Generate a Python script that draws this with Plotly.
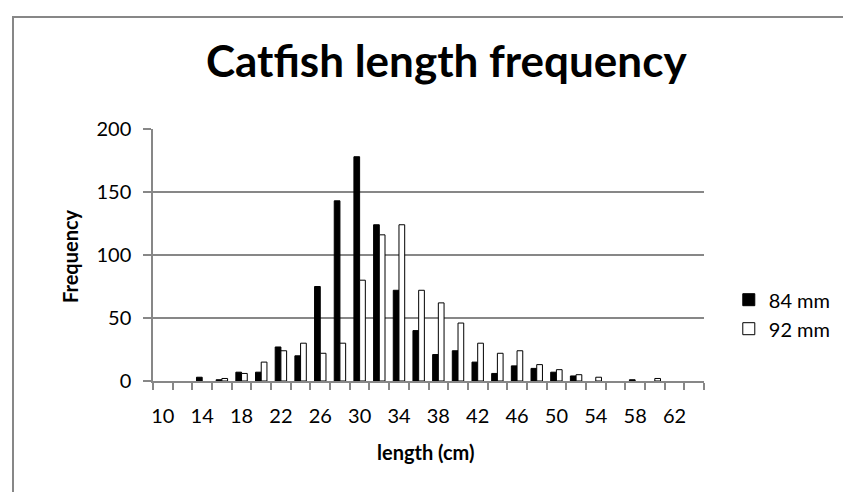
import plotly.graph_objects as go

# length classes (cm) and catch counts for the two mesh sizes
lengths = list(range(10, 66, 2))
freq_84 = [0, 0, 3, 1, 7, 7, 27, 20, 75, 143, 178, 124, 72, 40,
           21, 24, 15, 6, 12, 10, 7, 4, 0, 0, 1, 0, 0, 0]
freq_92 = [0, 0, 0, 2, 6, 15, 24, 30, 22, 30, 80, 116, 124, 72,
           62, 46, 30, 22, 24, 13, 9, 5, 3, 0, 0, 2, 0, 0]
tick_labels = list(range(10, 64, 4))

FONT = "Lato"
GREY = "#878787"


def drop_zeros(values):
    # empty classes get no bar at all (Excel draws nothing there)
    return [v if v else None for v in values]


fig = go.Figure()
fig.add_trace(go.Bar(x=lengths, y=drop_zeros(freq_84), name="84 mm",
                     marker=dict(color="black", line=dict(color="black", width=1))))
fig.add_trace(go.Bar(x=lengths, y=drop_zeros(freq_92), name="92 mm",
                     marker=dict(color="white", line=dict(color="black", width=1))))

fig.update_layout(
    width=851, height=492,
    margin=dict(l=145, r=155, t=121, b=119),
    paper_bgcolor="white", plot_bgcolor="white",
    barmode="group", bargap=0.42, bargroupgap=0,
    font=dict(family=FONT, size=20, color="black"),
    title=dict(text="<b>Catfish length frequency</b>", xref="container", x=0.515,
               y=1 - 54 / 492, xanchor="center", yanchor="middle",
               font=dict(family=FONT, size=44, color="black")),
    legend=dict(x=1.045, y=0.40, xanchor="left", yanchor="top",
                font=dict(size=20), itemwidth=30, tracegroupgap=0,
                bgcolor="rgba(0,0,0,0)"),
    showlegend=True,
)

fig.update_xaxes(
    range=[9, 65], tickvals=tick_labels, ticktext=[str(v) for v in tick_labels],
    ticks="", ticklabelstandoff=16, showgrid=False, zeroline=False,
    showline=True, linecolor=GREY, linewidth=1.5,
    minor=dict(tick0=9, dtick=2, ticks="outside", ticklen=7, tickcolor=GREY, tickwidth=1.5),
)
fig.update_yaxes(
    range=[0, 200], dtick=50, ticks="outside", ticklen=8, tickcolor=GREY, tickwidth=1.5,
    ticklabelstandoff=8, showgrid=True, gridcolor=GREY, gridwidth=1.5, zeroline=False,
    showline=True, linecolor=GREY, linewidth=1.5,
)

# axis titles
fig.add_annotation(text="<b>Frequency</b>", xref="paper", yref="paper",
                   x=(62 - 145) / 551, y=(373 - 248) / 252, textangle=-90,
                   xanchor="center", yanchor="middle",
                   showarrow=False, font=dict(size=20))
fig.add_annotation(text="<b>length (cm)</b>", xref="paper", yref="paper",
                   x=(418 - 145) / 551, y=(373 - 444) / 252,
                   xanchor="center", yanchor="middle",
                   showarrow=False, font=dict(size=20))

# chart border (top and left edges visible in the frame)
fig.add_shape(type="rect", xref="paper", yref="paper",
              x0=(5 - 145) / 551, x1=(870 - 145) / 551,
              y0=(373 - 510) / 252, y1=1 + (121 - 9) / 252,
              line=dict(color=GREY, width=2), layer="below")

fig.write_html("out.html")
